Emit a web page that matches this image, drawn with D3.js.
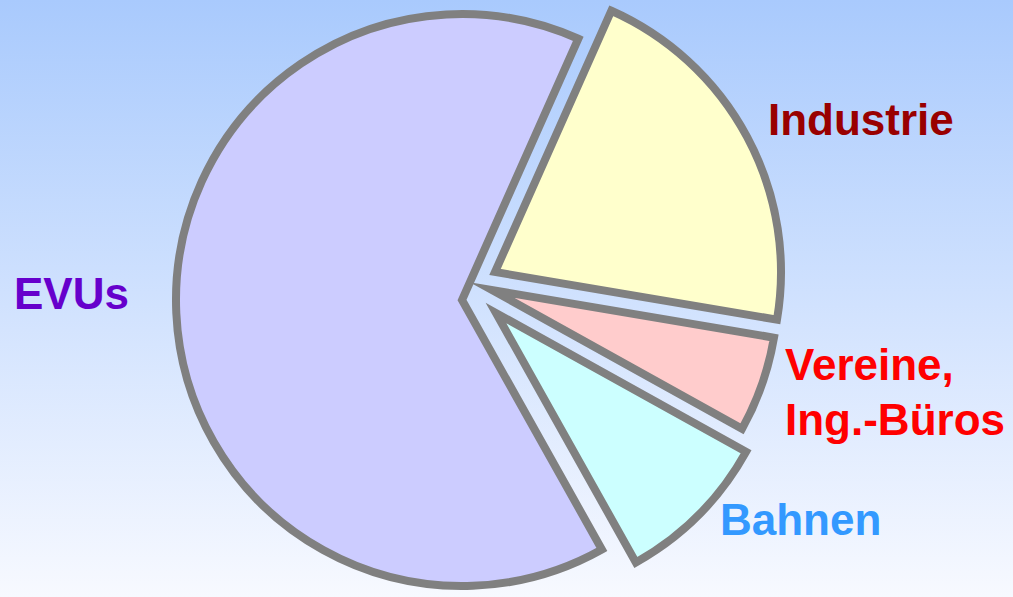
<!DOCTYPE html>
<html>
<head>
<meta charset="utf-8">
<script src="https://d3js.org/d3.v7.min.js"></script>
<style>
	html, body { margin: 0; padding: 0; overflow: hidden; }
	svg { display: block; }
</style>
</head>
<body>
<div id="content"></div>
<script>
// chart data (clockwise, starting at the top-right slice)
var categories = ["Industrie", "Vereine, Ing.-Büros", "Bahnen", "EVUs"];
var shares = [21, 5.4, 8.8, 64.8];
var labelLines = [["Industrie"], ["Vereine,", "Ing.-Büros"], ["Bahnen"], ["EVUs"]];

// look
var sliceFills = ["#ffffcc", "#ffcccc", "#ccffff", "#ccccff"];
var labelColors = ["#990000", "#ff0000", "#3399ff", "#6600cc"];

function main() {
	var width = 1013;
	var height = 597;

	var svg = d3.select("#content")
		.append("svg")
		.attr("width", width)
		.attr("height", height);

	// background gradient
	var grad = svg.append("defs").append("linearGradient")
		.attr("id", "bg")
		.attr("x1", 0).attr("y1", 0)
		.attr("x2", 0).attr("y2", 1);
	grad.append("stop").attr("offset", "0%").attr("stop-color", "#a9cafd");
	grad.append("stop").attr("offset", "100%").attr("stop-color", "#f7f9ff");

	svg.append("rect")
		.attr("width", width)
		.attr("height", height)
		.attr("fill", "url(#bg)");

	var cx = 465, cy = 298;
	var radius = 286;

	// pulled-out slices (layout only)
	var shift = {
		"Industrie": [30, -26],
		"Vereine, Ing.-Büros": [27, -8],
		"Bahnen": [31, 15],
		"EVUs": [-3, 2]
	};

	var rows = categories.map(function (c, i) {
		return { name: c, value: shares[i], fill: sliceFills[i] };
	});

	var startAngle = 24 * Math.PI / 180;
	var pie = d3.pie()
		.sort(null)
		.value(function (d) { return d.value; })
		.startAngle(startAngle)
		.endAngle(startAngle + 2 * Math.PI);

	var arc = d3.arc()
		.innerRadius(0)
		.outerRadius(radius);

	var pieGroup = svg.append("g")
		.attr("transform", "translate(" + cx + "," + cy + ")");

	// draw EVUs first so the small slices sit on top
	var arcs = pie(rows);
	var drawOrder = [3, 0, 1, 2];

	pieGroup.selectAll("path.slice")
		.data(drawOrder.map(function (i) { return arcs[i]; }))
		.enter()
		.append("path")
		.attr("class", "slice")
		.attr("d", arc)
		.attr("fill", function (d) { return d.data.fill; })
		.attr("stroke", "#808080")
		.attr("stroke-width", 8)
		.attr("stroke-linejoin", "miter")
		.attr("stroke-miterlimit", 10)
		.attr("transform", function (d) {
			var s = shift[d.data.name];
			return "translate(" + s[0] + "," + s[1] + ")";
		});

	// labels
	var labelPos = {
		"Industrie": [768, 135],
		"Vereine, Ing.-Büros": [785, 380],
		"Bahnen": [720, 535],
		"EVUs": [14, 309]
	};
	var lineGap = 55;

	categories.forEach(function (c, i) {
		var p = labelPos[c];
		var t = svg.append("text")
			.attr("x", p[0])
			.attr("y", p[1])
			.attr("fill", labelColors[i])
			.attr("font-family", "'Liberation Sans', Arial, sans-serif")
			.attr("font-weight", "bold")
			.attr("font-size", 44);
		labelLines[i].forEach(function (line, k) {
			t.append("tspan")
				.attr("x", p[0])
				.attr("dy", k === 0 ? 0 : lineGap)
				.text(line);
		});
	});
}

main();
</script>
</body>
</html>
